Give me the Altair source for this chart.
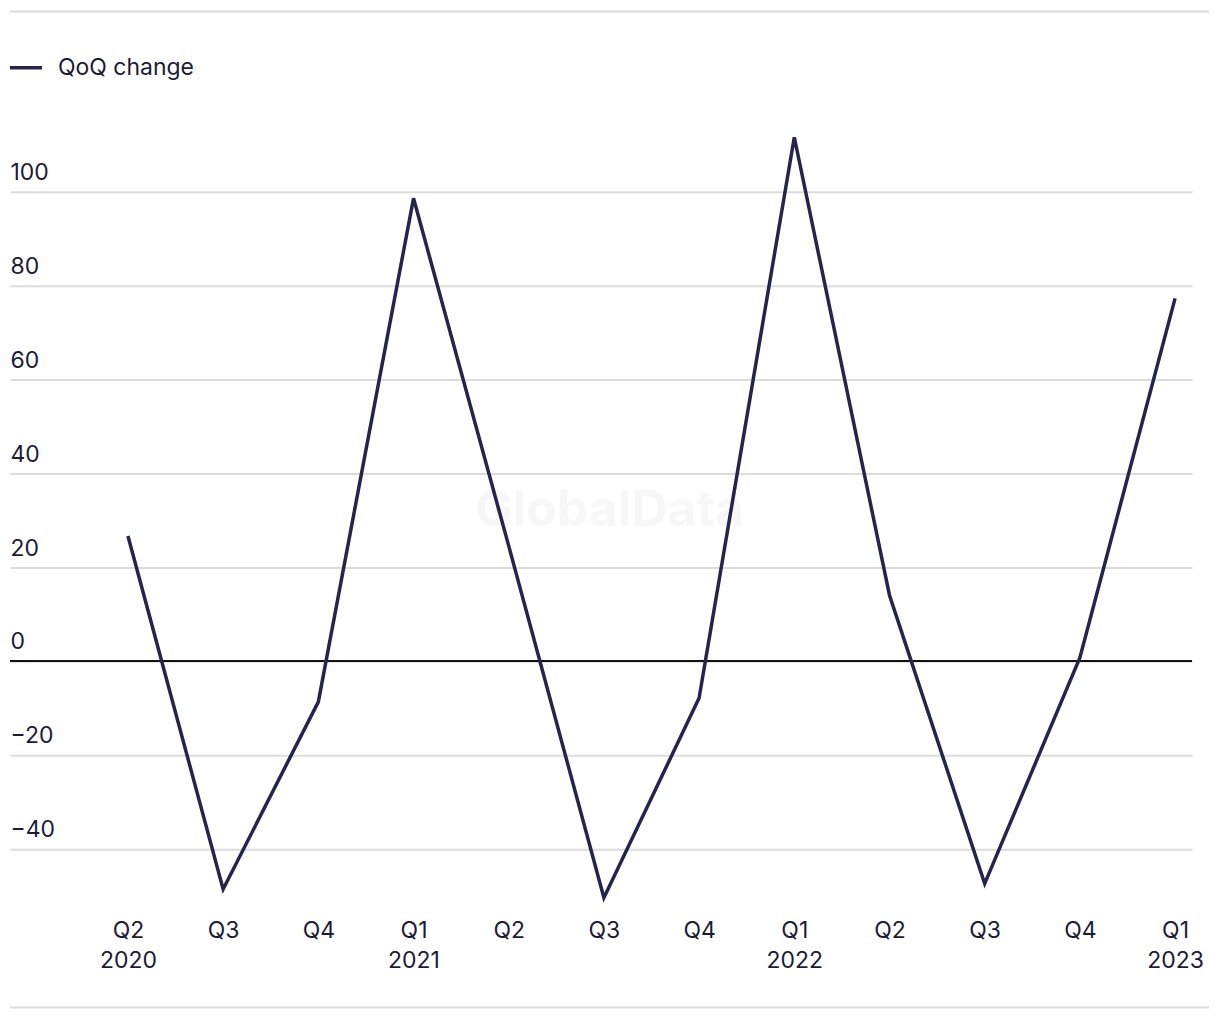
import altair as alt
import pandas as pd

# ---- data ----
quarter_idx = list(range(12))
quarters = ["Q2 2020", "Q3 2020", "Q4 2020", "Q1 2021", "Q2 2021", "Q3 2021",
            "Q4 2021", "Q1 2022", "Q2 2022", "Q3 2022", "Q4 2022", "Q1 2023"]
qoq_change = [26.6, -48.6, -8.7, 98.5, 24.5, -50.4, -7.9, 111.5, 14.0, -47.4, 0.7, 77.2]
tick_line1 = ["Q2", "Q3", "Q4", "Q1", "Q2", "Q3", "Q4", "Q1", "Q2", "Q3", "Q4", "Q1"]
tick_line2 = ["2020", "", "", "2021", "", "", "", "2022", "", "", "", "2023"]
y_ticks = [-40, -20, 0, 20, 40, 60, 80, 100]
series_name = "QoQ change"

LINE_COLOR = "#25244d"
TEXT_COLOR = "#1c1b33"
GRID_COLOR = "#dcdcdc"
FONT = "Inter"
FS = 23

df = pd.DataFrame({"i": quarter_idx, "quarter": quarters, "value": qoq_change,
                   "series": [series_name] * len(quarters)})

label_arr = []
for a, b in zip(tick_line1, tick_line2):
    label_arr.append("['%s','%s']" % (a, b) if b else "['%s']" % a)
label_expr = "([" + ",".join(label_arr) + "])[datum.value]"

x_scale = alt.Scale(domain=[-1.239, 11.178], nice=False, zero=False)
y_scale = alt.Scale(domain=[-52, 115], nice=False, zero=False)

x_axis = alt.Axis(values=quarter_idx, labelExpr=label_expr, title=None, domain=False,
                  ticks=False, tickSize=0, grid=False, labelFontSize=FS, labelFont=FONT,
                  labelColor=TEXT_COLOR, labelPadding=14, labelLineHeight=30,
                  labelFlush=False, labelOverlap=False)
y_axis = alt.Axis(values=y_ticks, title=None, domain=False, ticks=False, tickSize=0,
                  grid=True, gridColor=GRID_COLOR, gridWidth=2, labelAlign="left",
                  labelBaseline="alphabetic", labelOffset=-12, labelPadding=0,
                  labelFontSize=FS, labelFont=FONT, labelColor=TEXT_COLOR,
                  labelFlush=False, labelOverlap=False)

base = alt.Chart(df)

line = base.mark_line(strokeWidth=3.5, strokeJoin="miter").encode(
    x=alt.X("i:Q", scale=x_scale, axis=x_axis),
    y=alt.Y("value:Q", scale=y_scale, axis=y_axis),
    color=alt.Color("series:N", scale=alt.Scale(range=[LINE_COLOR]),
                    legend=alt.Legend(orient="none", legendX=-2, legendY=-71, title=None,
                                      symbolType="stroke", symbolStrokeWidth=3.5,
                                      symbolSize=1024, labelFontSize=FS, labelFont=FONT,
                                      labelColor=TEXT_COLOR, labelOffset=14)),
)

zero = alt.Chart(pd.DataFrame({"y": [0]})).mark_rule(color="#111111", strokeWidth=2).encode(
    y=alt.Y("y:Q", scale=y_scale)
)

watermark = alt.Chart(pd.DataFrame({"x": [5.06], "y": [32], "t": ["GlobalData"]})).mark_text(
    fontSize=50, fontWeight="bold", font=FONT, color="#f7f7f7"
).encode(x=alt.X("x:Q", scale=x_scale), y=alt.Y("y:Q", scale=y_scale), text="t:N")

top_border = alt.Chart(pd.DataFrame({"a": [0]})).mark_rule(color=GRID_COLOR, strokeWidth=2).encode(
    x=alt.value(0), x2=alt.value(1200), y=alt.value(-109.5)
)
bottom_border = alt.Chart(pd.DataFrame({"a": [0]})).mark_rule(color=GRID_COLOR, strokeWidth=2).encode(
    x=alt.value(0), x2=alt.value(1200), y=alt.value(887.5)
)

chart = alt.layer(watermark, zero, line, top_border, bottom_border).properties(
    width=1183, height=785,
    background="white",
    autosize=alt.AutoSizeParams(type="none"),
    padding={"left": 2, "top": 112.5, "right": 20, "bottom": 110},
).configure_view(strokeWidth=0, stroke=None)

chart.save("out.html", embed_options={"renderer": "svg", "actions": False})
